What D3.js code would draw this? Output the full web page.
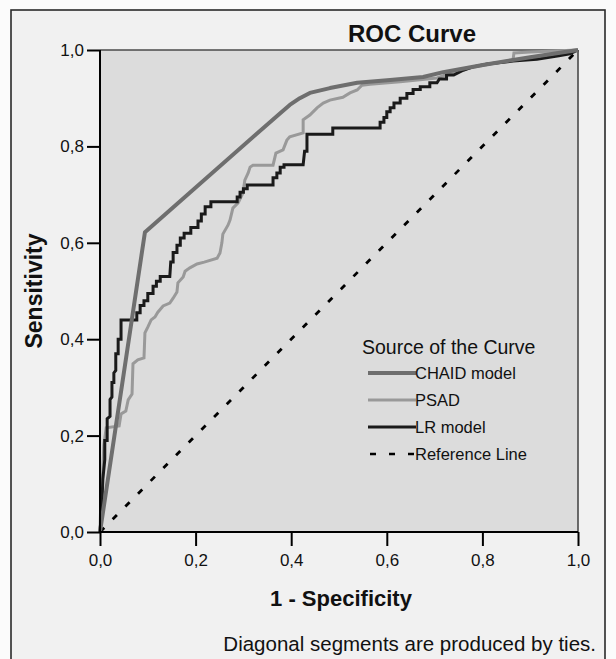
<!DOCTYPE html>
<html>
<head>
<meta charset="utf-8">
<script src="https://cdn.jsdelivr.net/npm/d3@7"></script>
<style>
  html, body { margin: 0; padding: 0; background: #fbfbfb; }
  svg { display: block; font-family: "Liberation Sans", Arial, sans-serif; }
</style>
</head>
<body>
<svg id="chart" width="616" height="659"></svg>
<script>
// ---------- data ----------
const chartTitle = "ROC Curve";
const xTitle = "1 - Specificity";
const yTitle = "Sensitivity";
const footnote = "Diagonal segments are produced by ties.";
const legendTitle = "Source of the Curve";
const seriesNames = ["CHAID model", "PSAD", "LR model", "Reference Line"];
const tickValues = [0, 0.2, 0.4, 0.6, 0.8, 1.0];

// [1 - specificity, sensitivity]
const chaid = [
  [0, 0], [0.094, 0.622], [0.377, 0.869], [0.397, 0.886], [0.418, 0.900],
  [0.439, 0.911], [0.481, 0.921], [0.538, 0.932], [0.607, 0.938], [0.676, 0.944],
  [0.718, 0.954], [0.801, 0.969], [0.900, 0.985], [1, 1]
];

const psad = [
  [0, 0], [0.002, 0.077], [0.006, 0.129], [0.008, 0.180], [0.013, 0.216],
  [0.040, 0.220], [0.044, 0.245], [0.054, 0.251], [0.059, 0.274], [0.067, 0.286],
  [0.069, 0.349], [0.079, 0.357], [0.092, 0.361], [0.094, 0.413], [0.100, 0.425],
  [0.107, 0.440], [0.115, 0.446], [0.121, 0.456], [0.132, 0.469], [0.146, 0.475],
  [0.153, 0.485], [0.161, 0.498], [0.163, 0.517], [0.174, 0.529], [0.178, 0.541],
  [0.188, 0.548], [0.203, 0.556], [0.218, 0.560], [0.245, 0.568], [0.251, 0.579],
  [0.255, 0.600], [0.257, 0.618], [0.268, 0.637], [0.272, 0.647], [0.278, 0.672],
  [0.289, 0.683], [0.299, 0.703], [0.303, 0.730], [0.310, 0.745], [0.314, 0.757],
  [0.320, 0.761], [0.362, 0.761], [0.368, 0.786], [0.383, 0.793], [0.391, 0.813],
  [0.397, 0.820], [0.425, 0.828], [0.425, 0.855], [0.439, 0.865], [0.454, 0.880],
  [0.467, 0.890], [0.481, 0.896], [0.508, 0.902], [0.523, 0.911], [0.538, 0.917],
  [0.548, 0.927], [0.565, 0.929], [0.628, 0.934], [0.705, 0.942], [0.722, 0.948],
  [0.774, 0.963], [0.816, 0.971], [0.864, 0.979], [0.866, 0.994], [0.900, 0.996],
  [1, 1]
];

const lr = [
  [0, 0], [0.004, 0.060], [0.006, 0.110], [0.010, 0.150], [0.010, 0.190],
  [0.015, 0.190], [0.015, 0.235], [0.021, 0.240], [0.021, 0.275], [0.025, 0.280],
  [0.025, 0.310], [0.029, 0.310], [0.029, 0.330], [0.033, 0.335], [0.033, 0.370],
  [0.038, 0.370], [0.038, 0.400], [0.044, 0.400], [0.044, 0.440], [0.077, 0.440],
  [0.077, 0.455], [0.084, 0.455], [0.084, 0.470], [0.092, 0.470], [0.092, 0.480],
  [0.100, 0.480], [0.100, 0.495], [0.111, 0.495], [0.111, 0.510], [0.118, 0.510],
  [0.118, 0.520], [0.126, 0.520], [0.126, 0.530], [0.146, 0.530], [0.148, 0.560],
  [0.153, 0.560], [0.153, 0.580], [0.161, 0.580], [0.161, 0.595], [0.168, 0.595],
  [0.168, 0.610], [0.176, 0.610], [0.176, 0.620], [0.190, 0.620], [0.190, 0.632],
  [0.205, 0.632], [0.205, 0.645], [0.212, 0.645], [0.212, 0.660], [0.220, 0.660],
  [0.220, 0.675], [0.232, 0.675], [0.232, 0.685], [0.287, 0.685], [0.287, 0.695],
  [0.293, 0.695], [0.293, 0.705], [0.300, 0.705], [0.300, 0.712], [0.308, 0.712],
  [0.308, 0.720], [0.362, 0.720], [0.362, 0.735], [0.370, 0.735], [0.370, 0.745],
  [0.377, 0.745], [0.377, 0.757], [0.385, 0.757], [0.385, 0.762], [0.425, 0.762],
  [0.428, 0.790], [0.433, 0.790], [0.433, 0.825], [0.487, 0.825], [0.487, 0.838],
  [0.586, 0.838], [0.586, 0.850], [0.594, 0.850], [0.594, 0.860], [0.600, 0.860],
  [0.600, 0.872], [0.607, 0.872], [0.607, 0.880], [0.615, 0.880], [0.615, 0.890],
  [0.628, 0.890], [0.628, 0.900], [0.642, 0.900], [0.642, 0.910], [0.655, 0.910],
  [0.655, 0.918], [0.670, 0.918], [0.670, 0.924], [0.690, 0.924], [0.690, 0.932],
  [0.705, 0.932], [0.710, 0.940], [0.725, 0.940], [0.725, 0.948], [0.740, 0.948],
  [0.760, 0.958], [0.780, 0.965], [0.810, 0.971], [0.864, 0.977], [0.914, 0.981],
  [0.960, 0.988], [0.983, 0.992], [1, 1]
];

const reference = [[0, 0], [1, 1]];

// ---------- layout ----------
const plot = { left: 100, right: 578, top: 50, bottom: 532 };
const svg = d3.select("#chart");

const fmt = d3.formatLocale({ decimal: ",", thousands: ".", grouping: [3], currency: ["", ""] }).format(".1f");

const x = d3.scaleLinear().domain([0, 1]).range([plot.left, plot.right]);
const y = d3.scaleLinear().domain([0, 1]).range([plot.bottom, plot.top]);

// outer frame
svg.append("rect").attr("x", 11).attr("y", 10).attr("width", 594).attr("height", 680)
  .attr("fill", "#f1f1f1").attr("stroke", "#2a2a2a").attr("stroke-width", 1.6);

// plot background
svg.append("rect").attr("x", plot.left).attr("y", plot.top)
  .attr("width", plot.right - plot.left).attr("height", plot.bottom - plot.top)
  .attr("fill", "#dcdcdc");

// top and right frame lines
svg.append("line").attr("x1", plot.left).attr("x2", plot.right).attr("y1", plot.top).attr("y2", plot.top)
  .attr("stroke", "#4a4a4a").attr("stroke-width", 1.6);
svg.append("line").attr("x1", plot.right).attr("x2", plot.right).attr("y1", plot.top).attr("y2", plot.bottom)
  .attr("stroke", "#4a4a4a").attr("stroke-width", 1.6);

// curves
const line = d3.line().x(d => x(d[0])).y(d => y(d[1]));
const g = svg.append("g");
g.append("path").datum(reference).attr("d", line).attr("fill", "none")
  .attr("stroke", "#000").attr("stroke-width", 2.8).attr("stroke-dasharray", "6,12");
g.append("path").datum(psad).attr("d", line).attr("fill", "none")
  .attr("stroke", "#999").attr("stroke-width", 3).attr("stroke-linejoin", "miter");
g.append("path").datum(lr).attr("d", line).attr("fill", "none")
  .attr("stroke", "#1a1a1a").attr("stroke-width", 3).attr("stroke-linejoin", "miter");
g.append("path").datum(chaid).attr("d", line).attr("fill", "none")
  .attr("stroke", "#6e6e6e").attr("stroke-width", 4).attr("stroke-linejoin", "round");

// axes
const xAxis = d3.axisBottom(x).tickValues(tickValues).tickFormat(fmt).tickSize(14).tickPadding(8);
const yAxis = d3.axisLeft(y).tickValues(tickValues).tickFormat(fmt).tickSize(13).tickPadding(3);
const gx = svg.append("g").attr("transform", `translate(0,${plot.bottom})`).call(xAxis);
const gy = svg.append("g").attr("transform", `translate(${plot.left},0)`).call(yAxis);
[gx, gy].forEach(a => {
  a.select(".domain").attr("stroke", "#000").attr("stroke-width", 2);
  a.selectAll(".tick line").attr("stroke", "#000").attr("stroke-width", 2);
  a.selectAll(".tick text").attr("fill", "#111").attr("font-size", 17)
    .attr("font-family", "'Liberation Sans', Arial, sans-serif");
});
gx.select(".domain").attr("d", `M${plot.left},0H${plot.right}`);
gy.select(".domain").attr("d", `M0,${plot.top}V${plot.bottom}`);

// titles
svg.append("text").attr("x", 412).attr("y", 42).attr("text-anchor", "middle")
  .attr("font-size", 24).attr("font-weight", "bold").attr("fill", "#111").text(chartTitle);
svg.append("text").attr("x", 341).attr("y", 606).attr("text-anchor", "middle")
  .attr("font-size", 22).attr("font-weight", "bold").attr("fill", "#111").text(xTitle);
svg.append("text").attr("transform", "translate(42,291) rotate(-90)").attr("text-anchor", "middle")
  .attr("font-size", 23).attr("font-weight", "bold").attr("fill", "#111").text(yTitle);
svg.append("text").attr("x", 596).attr("y", 651).attr("text-anchor", "end")
  .attr("font-size", 20.5).attr("fill", "#111").text(footnote);

// legend
const lg = svg.append("g");
lg.append("text").attr("x", 362).attr("y", 354).attr("font-size", 19.5).attr("fill", "#111").text(legendTitle);
const legendStyles = [
  { color: "#6e6e6e", width: 4, dash: null },
  { color: "#999", width: 3, dash: null },
  { color: "#1a1a1a", width: 3, dash: null },
  { color: "#000", width: 2.6, dash: "6,13" }
];
const ly = d3.scalePoint().domain(seriesNames).range([373, 454]);
seriesNames.forEach((name, i) => {
  const s = legendStyles[i];
  lg.append("line").attr("x1", i === 3 ? 370 : 368).attr("x2", i === 3 ? 414 : 416)
    .attr("y1", ly(name)).attr("y2", ly(name))
    .attr("stroke", s.color).attr("stroke-width", s.width).attr("stroke-dasharray", s.dash);
  lg.append("text").attr("x", 415).attr("y", ly(name) + 6).attr("font-size", 16.5)
    .attr("fill", "#111").text(name);
});
</script>
</body>
</html>
